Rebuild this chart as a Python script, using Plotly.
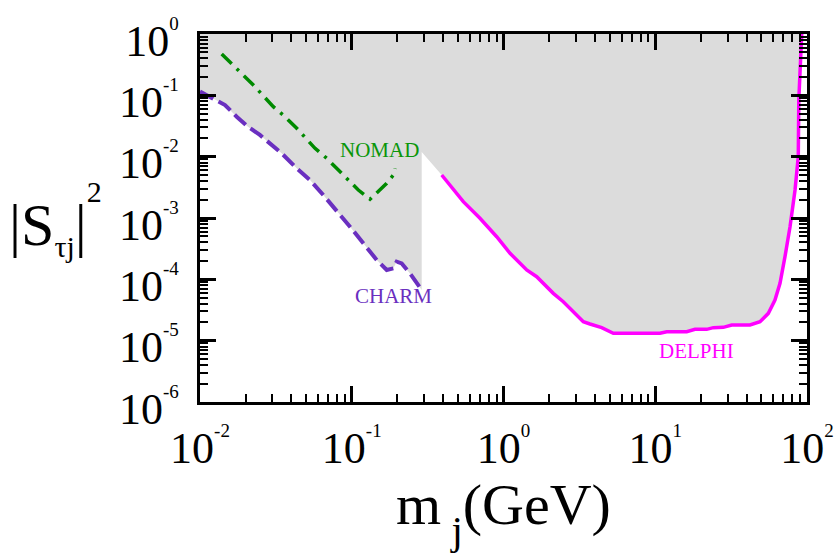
import math
import plotly.graph_objects as go

# ---------------- data ----------------
charm_m = [0.0100, 0.01164, 0.01462, 0.01745, 0.0207, 0.0248, 0.0297, 0.0345, 0.0434,
           0.0531, 0.0649, 0.0756, 0.0974, 0.1192, 0.1461, 0.1700, 0.1879, 0.1978,
           0.2134, 0.2420, 0.2891]
charm_s = [0.115, 0.0950, 0.0695, 0.0448, 0.0308, 0.0226, 0.0155, 0.01135, 0.00646,
           0.00416, 0.00237, 0.00153, 0.000721, 0.000386, 0.000207, 0.000142, 0.000151,
           0.000194, 0.000182, 0.000125, 0.0000670]

nomad_m = [0.01390, 0.01657, 0.01929, 0.02245, 0.0304, 0.0363, 0.0434, 0.0573, 0.0684,
           0.0926, 0.1105, 0.1319, 0.1461, 0.1700, 0.1879, 0.1928]
nomad_s = [0.472, 0.312, 0.2145, 0.1474, 0.0653, 0.0449, 0.0290, 0.01368, 0.00940,
           0.00444, 0.00286, 0.00202, 0.00258, 0.00368, 0.00502, 0.00646]

delphi_m = [0.3916, 0.4669, 0.5434, 0.6998, 0.9020, 1.104, 1.422, 1.655, 1.926, 2.129,
            2.478, 2.884, 3.357, 3.715, 4.438, 5.292, 10.75, 11.90, 16.12, 18.28, 21.83,
            24.13, 28.09, 31.90, 42.11, 49.0, 55.6, 61.5, 66.4, 71.6, 77.3, 83.4, 87.6,
            88.3, 89.9, 92.3]
delphi_s = [0.00502, 0.00286, 0.001845, 0.000989, 0.000495, 0.000266, 0.000142, 0.0001104,
            0.0000758, 0.0000591, 0.0000432, 0.0000296, 0.0000204, 0.0000187, 0.0000163,
            0.0000132, 0.0000132, 0.0000140, 0.0000140, 0.0000153, 0.0000153, 0.0000163,
            0.0000165, 0.0000180, 0.0000180, 0.0000204, 0.0000279, 0.0000460, 0.0000861,
            0.000234, 0.000721, 0.00286, 0.0100, 0.0839, 0.293, 1.0]

# boundary points of the excluded (grey) region
region_top_s = 1.0
region_corner_m = 0.2891
region_corner_s = 0.0119

x_decades = [-2, -1, 0, 1, 2]
y_decades = [-6, -5, -4, -3, -2, -1, 0]
minor_mult = [2, 3, 4, 5, 6, 7, 8, 9]

labels = [("NOMAD", 0.1535, 0.01284, "#0a960a"),
          ("CHARM", 0.187, 5.45e-5, "#6a2fc0"),
          ("DELPHI", 18.56, 6.78e-6, "#ff00ff")]

# ---------------- figure ----------------
FONT = "Liberation Serif, Times New Roman, serif"


def pow_label(e):
    return ('<span style="font-size:44px">10</span>'
            '<sup><span style="font-size:19px">' + str(e) + '</span></sup>')


def decade_vals(decs):
    return [10.0 ** d for d in decs]


def minor_vals(decs):
    return [k * 10.0 ** d for d in decs[:-1] for k in minor_mult]


region_m = [charm_m[0]] + charm_m + [region_corner_m] + delphi_m
region_s = [region_top_s] + charm_s + [region_corner_s] + delphi_s

fig = go.Figure()
fig.add_trace(go.Scatter(x=region_m, y=region_s, mode="lines", fill="toself",
                         fillcolor="#dcdcdc", line=dict(width=0), hoverinfo="skip"))
fig.add_trace(go.Scatter(x=charm_m, y=charm_s, mode="lines",
                         line=dict(color="#6a2fc0", width=4, dash="15px,6px")))
fig.add_trace(go.Scatter(x=nomad_m, y=nomad_s, mode="lines",
                         line=dict(color="#008a00", width=3.5, dash="14px,7px,3px,7px")))
fig.add_trace(go.Scatter(x=delphi_m, y=delphi_s, mode="lines",
                         line=dict(color="#ff00ff", width=3.5)))

axis_common = dict(type="log", showline=True, linecolor="black", linewidth=2.5,
                   mirror="allticks", ticks="inside", ticklen=16, tickwidth=2.5,
                   tickcolor="black", showgrid=False, zeroline=False, tickmode="array",
                   layer="above traces", automargin=False,
                   tickfont=dict(family=FONT, size=62, color="black"))
minor_common = dict(ticks="inside", ticklen=8, tickwidth=2.2, tickcolor="black",
                    tickmode="array", showgrid=False)

fig.update_xaxes(range=[-2, 2], tickvals=decade_vals(x_decades),
                 ticktext=[pow_label(t) for t in x_decades],
                 ticklabelstandoff=-16,
                 minor=dict(tickvals=minor_vals(x_decades), **minor_common),
                 **axis_common)
fig.update_yaxes(range=[-6, 0], tickvals=decade_vals(y_decades),
                 ticktext=[pow_label(t) for t in y_decades],
                 ticklabelstandoff=6,
                 minor=dict(tickvals=minor_vals(y_decades), **minor_common),
                 **axis_common)

for text, m, s, col in labels:
    fig.add_annotation(x=math.log10(m), y=math.log10(s), xref="x", yref="y", text=text,
                       showarrow=False, font=dict(family=FONT, size=21, color=col))

# y title (horizontal)
fig.add_annotation(xref="paper", yref="paper", x=-0.318, y=0.497, xanchor="left",
                   yanchor="middle", showarrow=False,
                   text='|S<sub><span style="font-size:30px">τj</span></sub>|'
                        '<sup><sup><span style="font-size:30px">2</span></sup></sup>',
                   font=dict(family=FONT, size=60, color="black"))
# x title
fig.add_annotation(xref="paper", yref="paper", x=0.5, y=-0.30, xanchor="center",
                   yanchor="middle", showarrow=False,
                   text='<span style="font-size:58px">m</span>'
                        '<sub><span style="font-size:41px"> j</span></sub>'
                        '<span style="font-size:58px">(GeV)</span>',
                   font=dict(family=FONT, size=95, color="black"))

fig.update_layout(width=838, height=558, margin=dict(l=200, r=31, t=34, b=156),
                  plot_bgcolor="white", paper_bgcolor="white", showlegend=False,
                  font=dict(family=FONT, color="black"))

fig.write_html("out.html")
